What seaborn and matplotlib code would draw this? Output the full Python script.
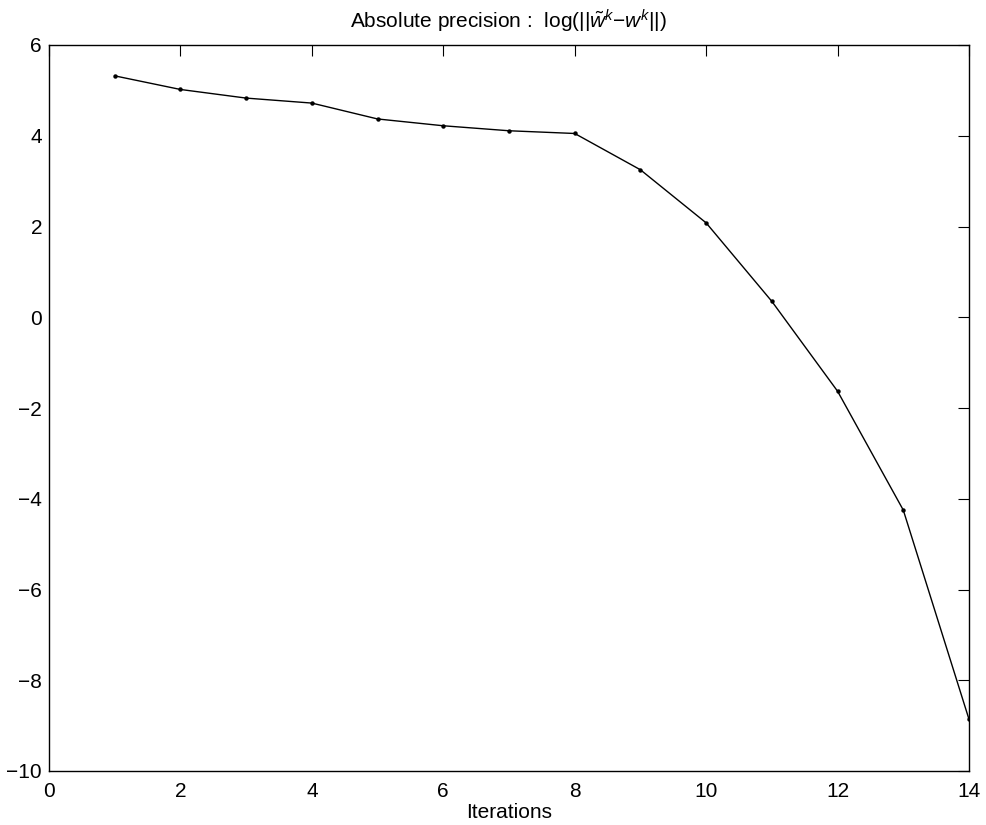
import matplotlib
matplotlib.use("Agg")
import matplotlib.pyplot as plt
import seaborn as sns
import pandas as pd

iterations = [1, 2, 3, 4, 5, 6, 7, 8, 9, 10, 11, 12, 13, 14]
log_error = [5.32, 5.02, 4.83, 4.72, 4.37, 4.22, 4.11, 4.05, 3.25, 2.08, 0.35, -1.63, -4.25, -8.86]
x_ticks = [0, 2, 4, 6, 8, 10, 12, 14]
y_ticks = [-10, -8, -6, -4, -2, 0, 2, 4, 6]

sns.set_style("white")
plt.rcParams['font.family'] = ['Liberation Sans', 'DejaVu Sans']
plt.rcParams['mathtext.fontset'] = 'custom'
plt.rcParams['mathtext.rm'] = 'Liberation Sans'
plt.rcParams['mathtext.it'] = 'Liberation Sans:italic'
plt.rcParams['text.color'] = 'black'
plt.rcParams['axes.labelcolor'] = 'black'

df = pd.DataFrame({"Iterations": iterations, "value": log_error})

fig = plt.figure(figsize=(9.86, 8.25), dpi=100)
ax = fig.add_axes([49/986, 54/825, 920/986, 726/825])
sns.lineplot(data=df, x="Iterations", y="value", ax=ax, color="black",
             linewidth=1.0, marker="o", markersize=3.2, markeredgewidth=0)
ax.set_xlim(0, 14)
ax.set_ylim(-10, 6)
ax.set_xticks(x_ticks)
ax.set_yticks(y_ticks)
ax.tick_params(direction="in", length=8, width=0.8, top=True, right=True,
               labelsize=15, colors="black")
ax.tick_params(axis="x", pad=8)
ax.tick_params(axis="y", pad=5)
for s in ax.spines.values():
    s.set_linewidth(1.0)
    s.set_color("black")
ax.set_xlabel("Iterations", fontsize=15, labelpad=1, color="black")
ax.set_ylabel("")
ax.set_title(r"Absolute precision :  log(||$\tilde{w}^k$$-$$w^k$||)", fontsize=15, pad=12, color="black")
fig.savefig("out.png", dpi=100)
